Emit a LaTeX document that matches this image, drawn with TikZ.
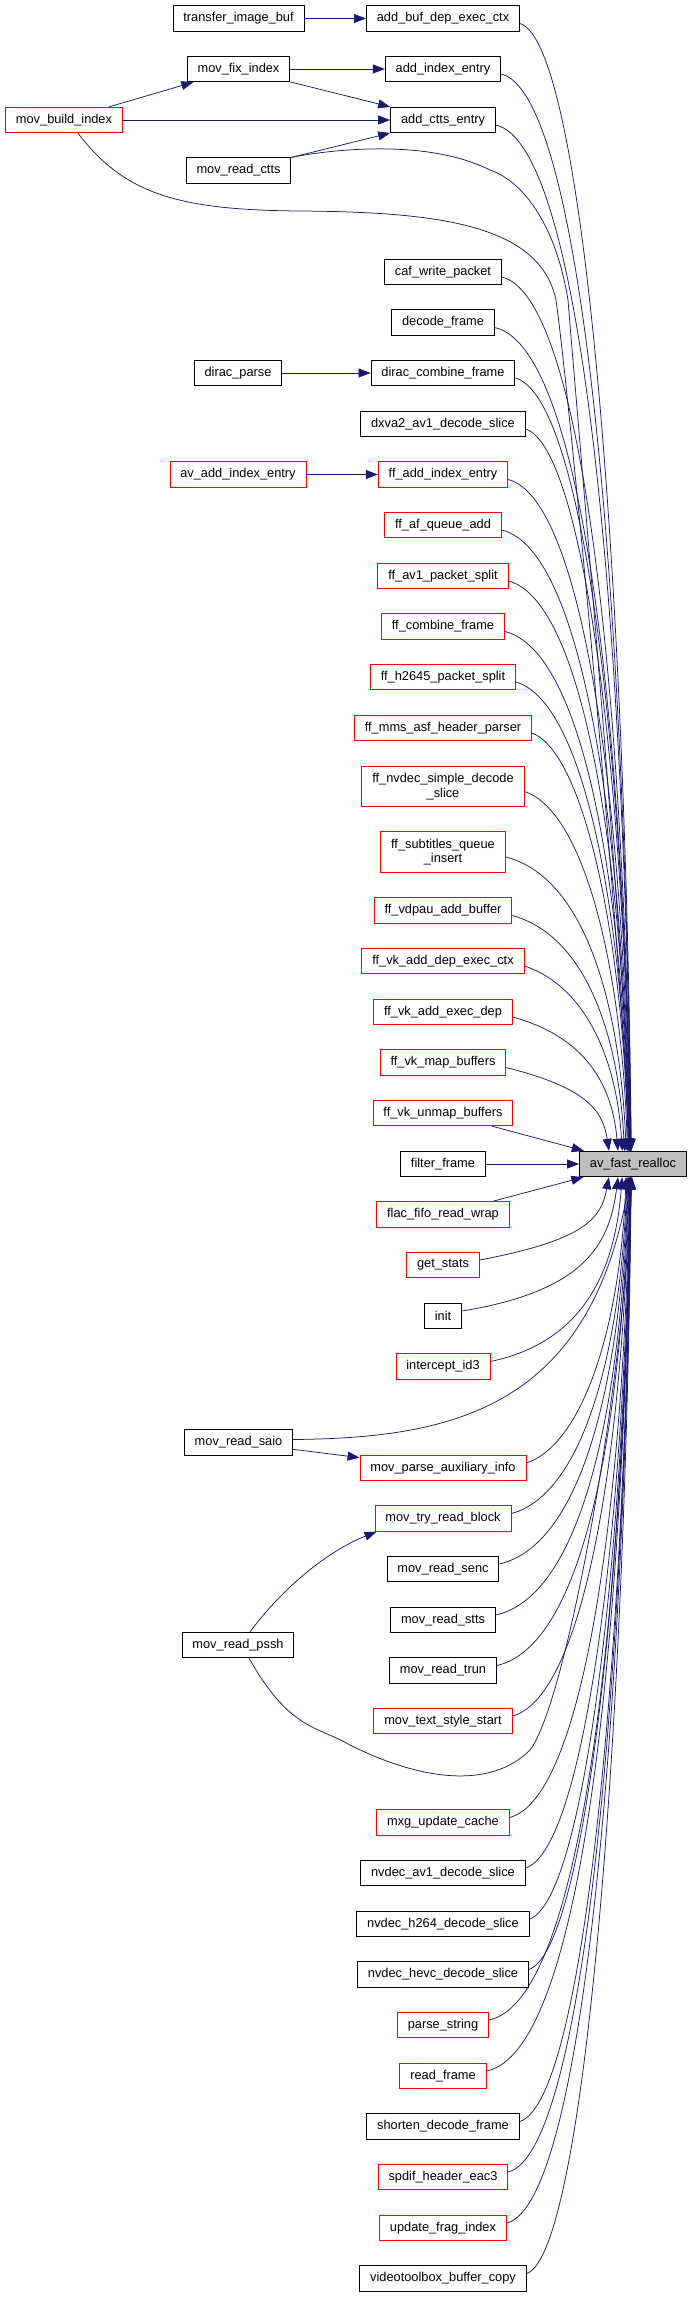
\documentclass[tikz,border=0pt]{standalone}
\usepackage{fontspec}
\setmainfont{Liberation Sans}
\usetikzlibrary{arrows.meta,calc}

\definecolor{edgeblue}{HTML}{191970}
\definecolor{callred}{HTML}{FF0000}
\definecolor{nodegray}{HTML}{BFBFBF}

\tikzset{
  fn/.style={draw=black,fill=white,line width=0.9pt,inner xsep=10.4pt,inner ysep=2pt,
    minimum height=25.5pt,align=center,font=\fontsize{12.8}{14.5}\selectfont},
  fnred/.style={fn,draw=callred},
  twoline/.style={minimum height=40.5pt},
  edge/.style={draw=edgeblue,line width=0.75pt,-{Triangle[length=12pt,width=9pt]}},
}

\begin{document}
\begin{tikzpicture}[x=1pt,y=1pt]
  \useasboundingbox (0,0) rectangle (692,-2297);

  % callers of the callers
  \node[fn]    (tib)  at (238.5,-18.5)  {transfer\_image\_buf};
  \node[fn]    (mfi)  at (238.5,-69)    {mov\_fix\_index};
  \node[fnred] (mbi)  at (64,-120)      {mov\_build\_index};
  \node[fn]    (mrc)  at (238.5,-170.5) {mov\_read\_ctts};
  \node[fn]    (dp)   at (238,-373)     {dirac\_parse};
  \node[fnred] (aaie) at (238,-474.5)   {av\_add\_index\_entry};
  \node[fn]    (saio) at (238.5,-1442.5){mov\_read\_saio};
  \node[fn]    (pssh) at (238,-1645)    {mov\_read\_pssh};

  % direct callers
  \node[fn]    (add_buf)       at (443,-18.5)  {add\_buf\_dep\_exec\_ctx};
  \node[fn]    (add_index)     at (443,-69)    {add\_index\_entry};
  \node[fn]    (add_ctts)      at (443,-120)   {add\_ctts\_entry};
  \node[fn]    (caf)           at (443,-272)   {caf\_write\_packet};
  \node[fn]    (decode_frame)  at (443,-322.5) {decode\_frame};
  \node[fn]    (dirac_combine) at (443,-373)   {dirac\_combine\_frame};
  \node[fn]    (dxva2)         at (443,-424)   {dxva2\_av1\_decode\_slice};
  \node[fnred] (ff_add_index)  at (443,-474.5) {ff\_add\_index\_entry};
  \node[fnred] (ff_af_queue)   at (443,-525)   {ff\_af\_queue\_add};
  \node[fnred] (ff_av1)        at (443,-576)   {ff\_av1\_packet\_split};
  \node[fnred] (ff_combine)    at (443,-626.5) {ff\_combine\_frame};
  \node[fnred] (ff_h2645)      at (443,-677)   {ff\_h2645\_packet\_split};
  \node[fnred] (ff_mms)        at (443,-728)   {ff\_mms\_asf\_header\_parser};
  \node[fnred,twoline] (ff_nvdec)     at (443,-786.5) {ff\_nvdec\_simple\_decode\\\_slice};
  \node[fnred,twoline] (ff_subtitles) at (443,-852)   {ff\_subtitles\_queue\\\_insert};
  \node[fnred] (ff_vdpau)      at (443,-910.5) {ff\_vdpau\_add\_buffer};
  \node[fnred] (ff_vk_add_dep) at (443,-961)   {ff\_vk\_add\_dep\_exec\_ctx};
  \node[fnred] (ff_vk_add_exec) at (443,-1012) {ff\_vk\_add\_exec\_dep};
  \node[fnred] (ff_vk_map)     at (443,-1062.5) {ff\_vk\_map\_buffers};
  \node[fnred] (ff_vk_unmap)   at (443,-1113)  {ff\_vk\_unmap\_buffers};
  \node[fn]    (filter_frame)  at (443,-1164)  {filter\_frame};
  \node[fnred] (flac)          at (443,-1214.5) {flac\_fifo\_read\_wrap};
  \node[fnred] (get_stats)     at (443,-1265)  {get\_stats};
  \node[fn]    (init)          at (443,-1316)  {init};
  \node[fnred] (intercept)     at (443,-1366.5) {intercept\_id3};
  \node[fnred] (mov_parse_aux) at (443,-1468)  {mov\_parse\_auxiliary\_info};
  \node[fnred] (mov_try_read)  at (443,-1518.5) {mov\_try\_read\_block};
  \node[fn]    (senc)          at (443,-1569)  {mov\_read\_senc};
  \node[fn]    (stts)          at (443,-1620)  {mov\_read\_stts};
  \node[fn]    (trun)          at (443,-1670.5) {mov\_read\_trun};
  \node[fnred] (text_style)    at (443,-1721)  {mov\_text\_style\_start};
  \node[fnred] (mxg)           at (443,-1822.5) {mxg\_update\_cache};
  \node[fn]    (nvdec_av1)     at (443,-1873)  {nvdec\_av1\_decode\_slice};
  \node[fn]    (nvdec_h264)    at (443,-1924)  {nvdec\_h264\_decode\_slice};
  \node[fn]    (nvdec_hevc)    at (443,-1974.5) {nvdec\_hevc\_decode\_slice};
  \node[fnred] (parse_string)  at (443,-2025)  {parse\_string};
  \node[fnred] (read_frame)    at (443,-2076)  {read\_frame};
  \node[fn]    (shorten)       at (443,-2126.5) {shorten\_decode\_frame};
  \node[fnred] (spdif)         at (443,-2177)  {spdif\_header\_eac3};
  \node[fnred] (update_frag)   at (443,-2228)  {update\_frag\_index};
  \node[fn]    (videotoolbox)  at (443,-2278.5) {videotoolbox\_buffer\_copy};

  \node[fn,fill=nodegray] (av) at (633,-1164) {av\_fast\_realloc};

  % straight calls
  \draw[edge] (tib) -- (add_buf);
  \draw[edge] (mfi) -- (add_index);
  \draw[edge] (mfi) -- (add_ctts);
  \draw[edge] (mbi) -- (mfi);
  \draw[edge] (mbi) -- (add_ctts);
  \draw[edge] (mrc) -- (add_ctts);
  \draw[edge] (dp) -- (dirac_combine);
  \draw[edge] (aaie) -- (ff_add_index);
  \draw[edge] (saio) -- (mov_parse_aux);
  \draw[edge] (ff_vk_unmap) -- (av);
  \draw[edge] (filter_frame) -- (av);
  \draw[edge] (flac) -- (av);

  % callers above av_fast_realloc
  \foreach \f in {add_buf,add_index,add_ctts,caf,decode_frame,dirac_combine,dxva2,
      ff_add_index,ff_af_queue,ff_av1,ff_combine,ff_h2645,ff_mms,ff_nvdec,
      ff_subtitles,ff_vdpau,ff_vk_add_dep,ff_vk_add_exec,ff_vk_map}
    \draw[edge] let \p1=([yshift=-5pt]\f.east), \p2=(av.north), \n1={\y1-\y2} in
      (\p1) .. controls (585,\y1-20pt)
        and +({-0.05*(\x2-\x1)},{0.5*\n1}) .. ({\x2-2000/\n1},\y2);

  % callers below av_fast_realloc
  \foreach \f in {get_stats,init,intercept,mov_parse_aux,mov_try_read,senc,stts,trun,
      text_style,mxg,nvdec_av1,nvdec_h264,nvdec_hevc,parse_string,read_frame,
      shorten,spdif,update_frag,videotoolbox}
    \draw[edge] let \p1=([yshift=5pt]\f.east), \p2=(av.south), \n1={\y2-\y1} in
      (\p1) .. controls (585,\y1+20pt)
        and +({-0.05*(\x2-\x1)},{-0.5*\n1}) .. ({\x2-2000/\n1},\y2);

  % long detours
  \draw[edge] ([xshift=14pt]mbi.south) .. controls (125,-195) and (180,-210) .. (300,-211)
    .. controls (440,-212) and (540,-225) .. (556,-300)
    .. controls (570,-400) and (622,-950) .. ([xshift=-4pt]av.north);
  \draw[edge] (mrc.north east) .. controls (340,-148) and (430,-140) .. (490,-170)
    .. controls (520,-180) and (555,-220) .. (568,-300)
    .. controls (580,-450) and (625,-950) .. ([xshift=-3pt]av.north);
  \draw[edge] ([yshift=3pt]saio.east) .. controls (450,-1438) and (590,-1410) .. ([xshift=-3pt]av.south);
  \draw[edge] ([xshift=12pt]pssh.north) .. controls (285,-1585) and (330,-1550) .. ([xshift=2pt]mov_try_read.south west);
  \draw[edge] ([xshift=11pt]pssh.south) .. controls (290,-1730) and (315,-1725) .. (350,-1745)
    .. controls (420,-1780) and (490,-1790) .. (530,-1750)
    .. controls (565,-1705) and (622,-1400) .. ([xshift=-1pt]av.south);
\end{tikzpicture}
\end{document}
